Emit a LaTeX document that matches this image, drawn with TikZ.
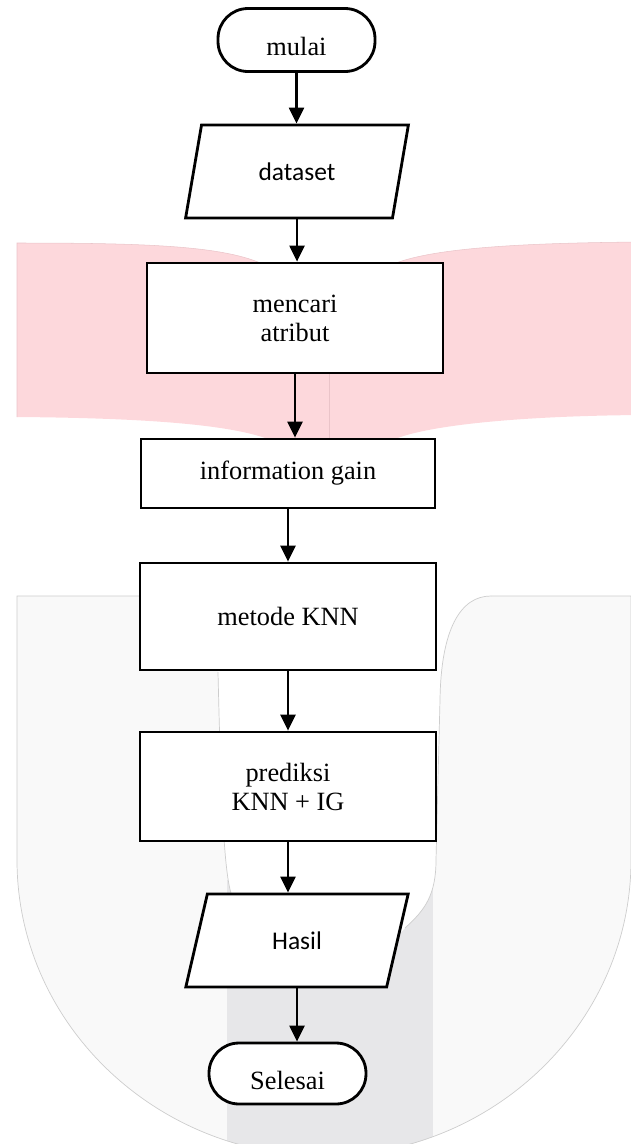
\documentclass[tikz,border=0pt]{standalone}
\usepackage{fontspec}
\setmainfont{Liberation Serif}
\newfontfamily\calibrifont{Carlito}
\usetikzlibrary{shapes.geometric,arrows.meta}

\definecolor{wmpink}{RGB}{253,216,220}
\definecolor{wmseam}{RGB}{234,196,201}
\definecolor{wmlight}{RGB}{249,249,249}
\definecolor{wmgrey}{RGB}{231,231,233}
\definecolor{wmline}{RGB}{205,205,205}

\tikzset{
  terminal/.style={draw, line width=1.6pt, fill=white, rounded corners=0.6cm,
    minimum width=3.14cm, minimum height=1.26cm, text height=0.62cm, text depth=0pt},
  process/.style={draw, line width=1.6pt, fill=white, minimum width=5.92cm, align=center},
  inout/.style={draw, line width=1.6pt, fill=white, trapezium, trapezium left angle=76,
    trapezium right angle=104, trapezium stretches=true, minimum width=4.46cm,
    minimum height=1.86cm, font=\calibrifont\fontsize{14.5}{17}\selectfont},
  arr/.style={line width=1.3pt, -{Triangle[length=0.32cm,width=0.3cm]}},
}

\begin{document}
\begin{tikzpicture}[x=0.02cm, y=-0.02cm, font=\fontsize{15}{16.5}\selectfont]
    \useasboundingbox (0,0) rectangle (631,1144);
    % watermark behind the chart
    \begin{scope}
        \clip (0,0) rectangle (631,1144);
        \fill[wmpink] (17,243) .. controls (150,243) and (225,246) .. (265,265) -- (329,265)
            -- (329,439) -- (268,439) .. controls (230,425) and (150,418) .. (17,417) -- cycle;
        \fill[wmpink] (329,265) -- (391,265) .. controls (430,248) and (520,243) .. (640,242)
            -- (640,415) .. controls (520,416) and (430,425) .. (395,439) -- (329,439) -- cycle;
        \draw[wmseam, line width=0.4pt] (329,265) -- (329,439);
        \draw[wmseam, line width=0.3pt] (17,417) -- (17,243) .. controls (150,243) and (225,246) .. (265,265);
        \draw[wmseam, line width=0.3pt] (391,265) .. controls (430,248) and (520,243) .. (640,242);
        \fill[wmlight] (17,596) -- (631,596) -- (631,860) .. controls (631,1023) and (493,1156) .. (324,1156)
            .. controls (155,1156) and (17,1023) .. (17,860) -- cycle;
        \begin{scope}
            \clip (17,596) -- (631,596) -- (631,860) .. controls (631,1023) and (493,1156) .. (324,1156)
                .. controls (155,1156) and (17,1023) .. (17,860) -- cycle;
            \fill[wmgrey] (227,880) rectangle (433,1160);
        \end{scope}
        \fill[white] (218,590) -- (218,672) .. controls (221,800) and (224,870) .. (231,893)
            .. controls (270,960) and (380,960) .. (405,928) .. controls (425,910) and (436,895) .. (436,860)
            -- (440,700) .. controls (441,630) and (460,596) .. (491,596) -- (491,590) -- cycle;
        \draw[wmline, line width=0.4pt] (218,596) -- (17,596) -- (17,860) .. controls (17,1023) and (155,1156) .. (324,1156)
            .. controls (493,1156) and (631,1023) .. (631,860) -- (631,596) -- (491,596);
        \draw[wmline, line width=0.4pt] (218,672) .. controls (221,800) and (224,870) .. (231,893);
        \draw[wmline, line width=0.4pt] (405,928) .. controls (425,910) and (436,895) .. (436,860)
            -- (440,700) .. controls (441,630) and (460,596) .. (491,596);
    \end{scope}

    \node[terminal] (mulai) at (296.5,40) {mulai};
    \node[inout] (dataset) at (297,171.5) {dataset};
    \node[process, minimum height=2.2cm] (atribut) at (295,318) {mencari\\atribut};
    \node[process, minimum width=5.88cm, minimum height=1.38cm] (gain) at (288,473.5) {information gain};
    \node[process, minimum height=2.14cm] (knn) at (288,616.5) {metode KNN};
    \node[process, minimum height=2.18cm] (prediksi) at (288,786.5) {prediksi\\KNN + IG};
    \node[inout] (hasil) at (297,940.5) {Hasil};
    \node[terminal, minimum height=1.22cm] (selesai) at (287.5,1073.5) {Selesai};

    \draw[arr] (mulai.south) -- (mulai.south |- dataset.north);
    \draw[arr] (dataset.south) -- (dataset.south |- atribut.north);
    \draw[arr] (atribut.south) -- (atribut.south |- gain.north);
    \draw[arr] (gain.south) -- (gain.south |- knn.north);
    \draw[arr] (knn.south) -- (knn.south |- prediksi.north);
    \draw[arr] (prediksi.south) -- (prediksi.south |- hasil.north);
    \draw[arr] (hasil.south) -- (hasil.south |- selesai.north);
\end{tikzpicture}
\end{document}
